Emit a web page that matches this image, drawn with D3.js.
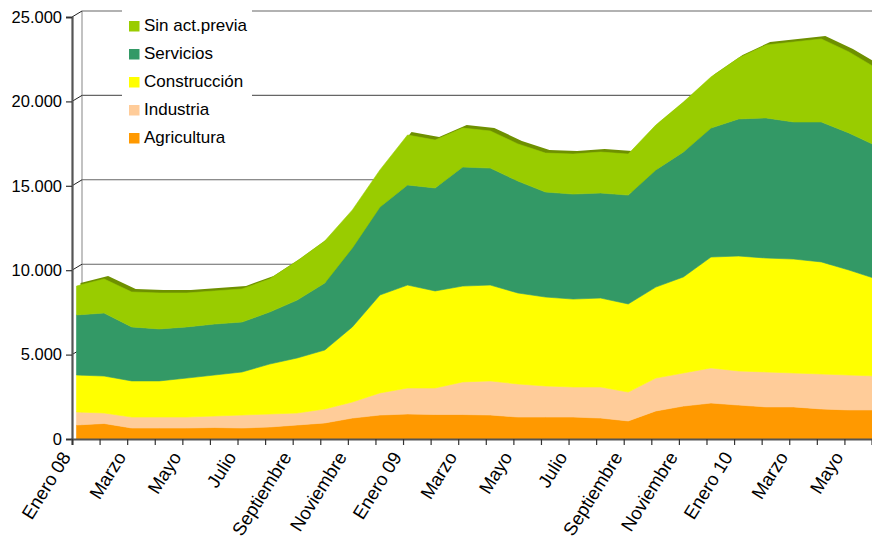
<!DOCTYPE html>
<html>
<head>
<meta charset="utf-8">
<script src="https://cdn.jsdelivr.net/npm/d3@7"></script>
<style>
  html, body { margin: 0; padding: 0; background: #fff; }
  svg { display: block; font-family: "Liberation Sans", Arial, sans-serif; }
</style>
</head>
<body>
<svg id="chart" width="872" height="544"></svg>
<script>
const months = ["Enero 08","Febrero","Marzo","Abril","Mayo","Junio","Julio","Agosto","Septiembre","Octubre","Noviembre","Diciembre",
                "Enero 09","Febrero","Marzo","Abril","Mayo","Junio","Julio","Agosto","Septiembre","Octubre","Noviembre","Diciembre",
                "Enero 10","Febrero","Marzo","Abril","Mayo","Junio"];
const seriesNames = ["Agricultura","Industria","Construcción","Servicios","Sin act.previa"];
const seriesColors = ["#FF9900","#FFCC99","#FFFF00","#339966","#99CC00"];
const agricultura  = [830,920,650,650,650,680,650,710,830,950,1240,1420,1480,1450,1450,1420,1300,1300,1300,1240,1070,1660,1950,2130,2010,1900,1900,1780,1720,1720];
const industria    = [770,620,650,650,650,680,770,770,710,830,950,1310,1540,1570,1930,2020,1960,1840,1780,1840,1710,1950,1960,2080,2020,2070,2010,2070,2070,2010];
const construccion = [2190,2190,2140,2140,2310,2430,2550,2960,3260,3490,4450,5800,6100,5750,5680,5680,5390,5270,5210,5270,5220,5390,5690,6570,6810,6750,6750,6640,6220,5750];
const servicios    = [3560,3730,3200,3080,3030,3020,2960,3080,3430,3970,4680,5210,5930,6100,7050,6930,6630,6220,6220,6220,6450,6940,7400,7640,8120,8300,8120,8290,8120,7880];
const sinActPrevia = [1710,2020,2070,2130,2010,1960,1960,1960,2320,2490,2250,2200,2960,2840,2310,2200,2200,2310,2370,2430,2430,2660,2960,3030,3610,4320,4740,4920,4800,4600];
const yTicks = [0,5000,10000,15000,20000,25000];

const seriesValues = [agricultura, industria, construccion, servicios, sinActPrevia];
const table = months.map((m, i) => {
  const row = { idx: i };
  seriesNames.forEach((s, k) => row[s] = seriesValues[k][i]);
  return row;
});

const svg = d3.select("#chart");
const W = 872, H = 544;
const x0 = 72, x1 = 872, yBase = 439, yTop = 17;
const depthX = 10, depthY = -6;     // back wall offset
const faceX = 4.5;                  // front face offset of areas

const x = d3.scaleLinear().domain([0, months.length - 1]).range([x0, x1]);
const y = d3.scaleLinear().domain([0, 25000]).range([yBase, yTop]);

const loc = d3.formatLocale({ decimal: ",", thousands: ".", grouping: [3], currency: ["", "€"] });
const fmt = loc.format(",d");

// back wall
const wall = svg.append("g");
wall.append("line")
  .attr("x1", x0 + depthX).attr("x2", x0 + depthX)
  .attr("y1", y(25000) + depthY).attr("y2", yBase + depthY)
  .attr("stroke", "#999").attr("stroke-width", 1.2);
yTicks.filter(t => t > 0).forEach(t => {
  wall.append("line")
    .attr("x1", x0 + depthX).attr("x2", W)
    .attr("y1", y(t) + depthY).attr("y2", y(t) + depthY)
    .attr("stroke", "#666").attr("stroke-width", 1.1);
  wall.append("line")
    .attr("x1", x0).attr("x2", x0 + depthX)
    .attr("y1", y(t)).attr("y2", y(t) + depthY)
    .attr("stroke", "#222").attr("stroke-width", 1);
});

// areas
const stack = d3.stack().keys(seriesNames);
const layers = stack(table);
const area = d3.area()
  .x(d => x(d.data.idx) + faceX)
  .y0(d => y(d[0]))
  .y1(d => y(d[1]));

const plot = svg.append("g");
// top 3D strip of the uppermost series
const topLayer = layers[layers.length - 1];
plot.append("path")
  .datum(topLayer)
  .attr("transform", "translate(4,-3)")
  .attr("d", area)
  .attr("fill", "#6E9000");
plot.selectAll("path.layer")
  .data(layers)
  .join("path")
  .attr("class", "layer")
  .attr("d", area)
  .attr("fill", (d, i) => seriesColors[i])
  .attr("stroke", (d, i) => seriesColors[i])
  .attr("stroke-width", 0.6);

// legend
const lg = svg.append("g");
lg.append("rect").attr("x", 122).attr("y", 6).attr("width", 130).attr("height", 142).attr("fill", "#fff");
const legendOrder = seriesNames.slice().reverse();
legendOrder.forEach((s, i) => {
  const k = seriesNames.indexOf(s);
  lg.append("rect").attr("x", 129).attr("y", 21 + i * 28).attr("width", 10.5).attr("height", 10.5).attr("fill", seriesColors[k]);
  lg.append("text").attr("x", 144).attr("y", 30.5 + i * 28).attr("font-size", 17).attr("fill", "#000").text(s);
});

// y axis
const yAxis = d3.axisLeft(y).tickValues(yTicks).tickSize(6).tickPadding(4).tickFormat(d => fmt(d));
const gy = svg.append("g").attr("transform", `translate(${x0},0)`).call(yAxis);
gy.select(".domain").attr("stroke", "#555").attr("stroke-width", 2.2);
gy.selectAll(".tick line").attr("stroke", "#333").attr("stroke-width", 1.2);
gy.selectAll(".tick text").attr("font-size", 16.5).attr("fill", "#000").attr("font-family", "Liberation Sans, Arial, sans-serif");

// x axis
const xAxis = d3.axisBottom(x).tickValues(d3.range(months.length)).tickSize(6)
  .tickFormat(i => (i % 2 === 0 ? months[i] : ""));
const gx = svg.append("g").attr("transform", `translate(0,${yBase})`).call(xAxis);
gx.select(".domain").attr("stroke", "#555").attr("stroke-width", 2.2);
gx.selectAll(".tick line").attr("stroke", "#333").attr("stroke-width", 1.2);
gx.selectAll(".tick text")
  .attr("font-size", 18.5).attr("fill", "#000").attr("font-family", "Liberation Sans, Arial, sans-serif")
  .attr("text-anchor", "end")
  .attr("x", 0).attr("y", 0).attr("dy", 0)
  .attr("transform", "translate(-1,18) rotate(-58)");
</script>
</body>
</html>
